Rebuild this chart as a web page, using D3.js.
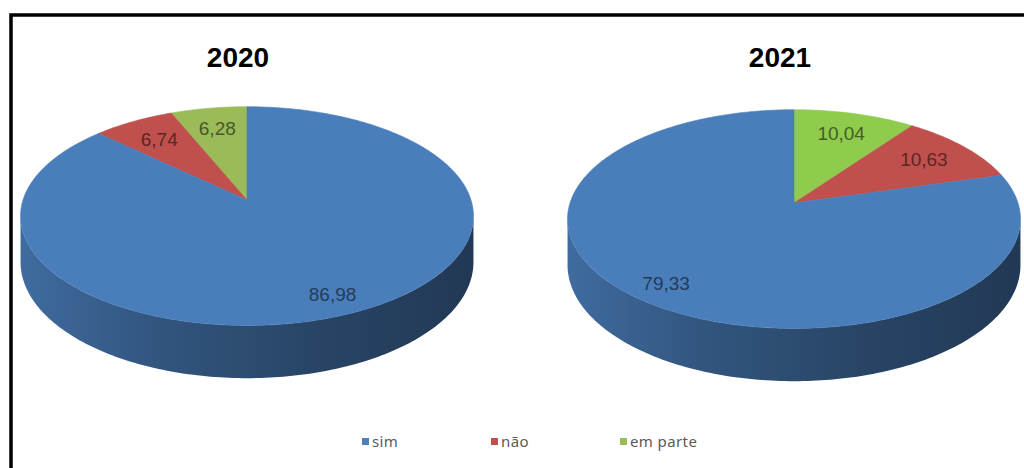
<!DOCTYPE html>
<html>
<head>
<meta charset="utf-8">
<script src="https://cdn.jsdelivr.net/npm/d3@7"></script>
<style>
  body { margin: 0; background: #fff; }
</style>
</head>
<body>
<svg id="chart"></svg>
<script>
const width = 1024;
const height = 468;

// dados (ordem das fatias a partir das 12h)
const categories = ["em parte", "não", "sim"];
const years = ["2020", "2021"];
const values2020 = [6.28, 6.74, 86.98];
const values2021 = [10.04, 10.63, 79.33];
const legendOrder = ["sim", "não", "em parte"];
const colors2020 = ["#9bbb59", "#c0504d", "#4a7ebb"];
const colors2021 = ["#8fcb4d", "#c0504d", "#4a7ebb"];
const legendColors = { "sim": "#4f81bd", "não": "#c0504d", "em parte": "#9bbb59" };

const svg = d3.select('#chart')
  .attr('width', width)
  .attr('height', height);

const defs = svg.append('defs');

// moldura
svg.append('rect')
  .attr('x', 11)
  .attr('y', 15)
  .attr('width', 1100)
  .attr('height', 1000)
  .attr('fill', 'none')
  .attr('stroke', '#000')
  .attr('stroke-width', 3.5);

const fmt = d3.formatLocale({ decimal: ",", thousands: ".", grouping: [3], currency: ["", ""] }).format(".2f");

// geometria da pizza 3D (perspectiva simples)
const rx = 224, ry = 107, depth = 45, k = 0.147;

const charts = [
  { year: years[0], values: values2020, colors: colors2020, cx: 247, cy: 200, dir: -1, titleX: 238 },
  { year: years[1], values: values2021, colors: colors2021, cx: 794, cy: 203, dir: 1, titleX: 780 }
];

function project(c, theta, r, h) {
  const X = Math.sin(theta) * r;
  const Z = -Math.cos(theta) * r;
  const s = 1 / (1 - k * Z);
  return [c.cx + rx * X * s, c.cy + (ry * Z + h * depth) * s];
}

function rim(c, a0, a1, h) {
  const n = Math.max(2, Math.ceil(Math.abs(a1 - a0) / (Math.PI / 180)));
  return d3.range(n + 1).map(i => project(c, a0 + (a1 - a0) * i / n, 1, h));
}

const line = d3.line();

// faixa frontal visível da lateral
const front0 = Math.acos(-k);
const front1 = 2 * Math.PI - Math.acos(-k);

charts.forEach((c, ci) => {
  const g = svg.append('g');

  const arcs = d3.pie()
    .sort(null)
    .startAngle(0)
    .endAngle(c.dir * 2 * Math.PI)(c.values);

  // gradientes das laterais
  arcs.forEach((a, i) => {
    const base = d3.color(c.colors[i]);
    const grad = defs.append('linearGradient')
      .attr('id', `wall-${ci}-${i}`)
      .attr('gradientUnits', 'userSpaceOnUse')
      .attr('x1', c.cx - rx).attr('y1', 0)
      .attr('x2', c.cx + rx).attr('y2', 0);
    [[0, 0.45], [0.3, 1.1], [0.65, 1.7], [1, 2.2]].forEach(([o, d]) => {
      grad.append('stop').attr('offset', o).attr('stop-color', base.darker(d).formatHex());
    });
  });

  // laterais
  arcs.forEach((a, i) => {
    const lo = Math.min(a.startAngle, a.endAngle);
    const hi = Math.max(a.startAngle, a.endAngle);
    [-2 * Math.PI, 0, 2 * Math.PI].forEach(off => {
      const b0 = Math.max(lo, front0 + off);
      const b1 = Math.min(hi, front1 + off);
      if (b1 <= b0) return;
      const pts = rim(c, b0, b1, 0).concat(rim(c, b1, b0, 1));
      g.append('path')
        .attr('d', line(pts) + 'Z')
        .attr('fill', `url(#wall-${ci}-${i})`);
    });
  });

  // faces superiores
  arcs.forEach((a, i) => {
    const pts = [project(c, 0, 0, 0)].concat(rim(c, a.startAngle, a.endAngle, 0));
    g.append('path')
      .attr('d', line(pts) + 'Z')
      .attr('fill', c.colors[i])
      .attr('stroke', c.colors[i])
      .attr('stroke-width', 0.6);
  });

  // rótulos de valor
  arcs.forEach((a, i) => {
    const mid = (a.startAngle + a.endAngle) / 2;
    const f = a.value > 50 ? 0.85 : 0.75;
    const p = project(c, mid, f, 0);
    g.append('text')
      .attr('x', p[0])
      .attr('y', p[1])
      .attr('text-anchor', 'middle')
      .attr('dominant-baseline', 'central')
      .attr('font-family', 'Liberation Sans, Arial, sans-serif')
      .attr('font-size', 19)
      .attr('fill', d3.color(c.colors[i]).darker(2.1).formatHex())
      .text(fmt(a.value));
  });

  // título
  svg.append('text')
    .attr('x', c.titleX)
    .attr('y', 67)
    .attr('text-anchor', 'middle')
    .attr('font-family', 'Liberation Sans, Arial, sans-serif')
    .attr('font-weight', 'bold')
    .attr('font-size', 28)
    .attr('fill', '#000')
    .text(c.year);
});

// legenda
const legendX = d3.scalePoint()
  .domain(legendOrder)
  .range([362, 620]);

const legend = svg.append('g')
  .selectAll('g')
  .data(legendOrder)
  .enter()
  .append('g')
  .attr('transform', d => `translate(${legendX(d)}, 442)`);

legend.append('rect')
  .attr('x', 0)
  .attr('y', -4)
  .attr('width', 7)
  .attr('height', 7)
  .attr('fill', d => legendColors[d]);

legend.append('text')
  .attr('x', 10)
  .attr('y', 5)
  .attr('font-family', 'Noto Sans, sans-serif')
  .attr('font-size', 15)
  .attr('letter-spacing', 0.4)
  .attr('fill', '#595959')
  .text(d => d);
</script>
</body>
</html>
